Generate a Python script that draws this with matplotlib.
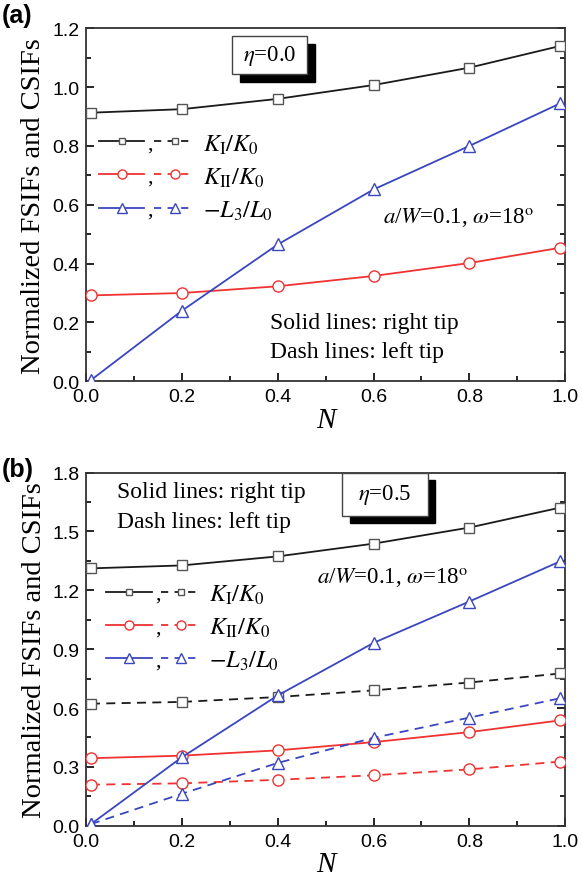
import matplotlib
matplotlib.use("Agg")
import matplotlib.pyplot as plt
from matplotlib.ticker import MultipleLocator
from matplotlib.patches import Rectangle

plt.rcParams['mathtext.fontset'] = 'stix'
plt.rcParams['font.family'] = ['Liberation Sans', 'DejaVu Sans']

# ---------------- data ----------------
N = [0.01, 0.2, 0.4, 0.6, 0.8, 0.99]

# panel (a), eta = 0.0 (right and left tips coincide)
a_KI = [0.913, 0.925, 0.960, 1.007, 1.066, 1.140]
a_KII = [0.292, 0.300, 0.323, 0.358, 0.402, 0.454]
a_L3 = [0.004, 0.240, 0.465, 0.652, 0.800, 0.945]

# panel (b), eta = 0.5
b_KI_right = [1.312, 1.327, 1.373, 1.438, 1.520, 1.622]
b_KI_left = [0.622, 0.631, 0.656, 0.690, 0.730, 0.776]
b_KII_right = [0.344, 0.357, 0.384, 0.426, 0.477, 0.537]
b_KII_left = [0.209, 0.216, 0.234, 0.257, 0.287, 0.327]
b_L3_right = [0.008, 0.349, 0.664, 0.932, 1.143, 1.348]
b_L3_left = [0.008, 0.163, 0.320, 0.448, 0.551, 0.650]

labels = [r'$K_{\rm I}/K_0$', r'$K_{\rm II}/K_0$', r'$-L_3/L_0$']
colors = ['#1a1a1a', '#f03232', '#3a46c0']
mec = ['#555555', '#f03232', '#3a46c0']
markers = ['s', 'o', '^']
msizes = [6.5, 8, 8.5]

fig = plt.figure(figsize=(5.82, 8.87), dpi=100)
axA = fig.add_axes([0.148, 0.569, 0.823, 0.398])
axB = fig.add_axes([0.148, 0.068, 0.823, 0.398])

serif = ['Liberation Serif', 'DejaVu Serif']

for i, y in enumerate([a_KI, a_KII, a_L3]):
    axA.plot(N, y, '-', color=colors[i], lw=1.3, marker=markers[i],
             ms=msizes[i], mfc='white', mec=mec[i], mew=1.0, zorder=3)

for i, (yr, yl) in enumerate([(b_KI_right, b_KI_left),
                              (b_KII_right, b_KII_left),
                              (b_L3_right, b_L3_left)]):
    axB.plot(N, yr, '-', color=colors[i], lw=1.3, marker=markers[i],
             ms=msizes[i], mfc='white', mec=mec[i], mew=1.0, zorder=3)
    axB.plot(N, yl, '--', color=colors[i], lw=1.3, marker=markers[i],
             ms=msizes[i], mfc='white', mec=mec[i], mew=1.0, zorder=3,
             dashes=(5, 3.5))


def style(ax, ymax, ymaj, ymin):
    ax.set_xlim(0, 1.0)
    ax.set_ylim(0, ymax)
    ax.xaxis.set_major_locator(MultipleLocator(0.2))
    ax.xaxis.set_minor_locator(MultipleLocator(0.1))
    ax.yaxis.set_major_locator(MultipleLocator(ymaj))
    ax.yaxis.set_minor_locator(MultipleLocator(ymin))
    ax.tick_params(which='both', direction='in', right=True, top=False,
                   labelsize=14, width=1.2, pad=5)
    ax.tick_params(which='major', length=6)
    ax.tick_params(which='minor', length=3.5)
    for s in ax.spines.values():
        s.set_linewidth(1.3)
        s.set_color('#333333')
    ax.set_xlabel('N', fontsize=21, family=serif, style='italic', labelpad=1)
    ax.set_ylabel('Normalized FSIFs and CSIFs', fontsize=20.5, family=serif,
                  labelpad=4)
    ax.yaxis.set_major_formatter(matplotlib.ticker.FormatStrFormatter('%.1f'))
    ax.xaxis.set_major_formatter(matplotlib.ticker.FormatStrFormatter('%.1f'))


style(axA, 1.2, 0.2, 0.1)
style(axB, 1.8, 0.3, 0.15)


def legend(ax, y0, dy, x):
    xs0, xs1, xm, xc, xd0, xd1, xdm, xl = x
    for i in range(3):
        y = y0 - i * dy
        ax.plot([xs0, xs1], [y, y], '-', color=colors[i], lw=1.3,
                transform=ax.transAxes, clip_on=False, zorder=4)
        ax.plot([xm], [y], marker=markers[i], ms=msizes[i] - 1.5, mfc='white',
                mec=mec[i], mew=1.0, transform=ax.transAxes, zorder=5)
        ax.text(xc, y - 0.008, ',', fontsize=16, family=serif,
                transform=ax.transAxes, ha='center', va='center')
        ax.plot([xd0, xd1], [y, y], '--', color=colors[i], lw=1.3,
                dashes=(4, 3.5), transform=ax.transAxes, zorder=4)
        ax.plot([xdm], [y], marker=markers[i], ms=msizes[i] - 1.5,
                mfc='white', mec=mec[i], mew=1.0, transform=ax.transAxes,
                zorder=5)
        ax.text(xl, y - 0.008, labels[i], fontsize=17.5,
                transform=ax.transAxes, ha='left', va='center')


legend(axA, 0.680, 0.094,
       (0.027, 0.121, 0.075, 0.134, 0.142, 0.222, 0.186, 0.243))
legend(axB, 0.663, 0.094,
       (0.042, 0.138, 0.090, 0.149, 0.157, 0.236, 0.199, 0.257))


def eta_box(ax, x0, y0, w, h, txt):
    sh = Rectangle((x0 + 0.016, y0 - 0.022), w, h, transform=ax.transAxes,
                   facecolor='black', edgecolor='black', zorder=5)
    bx = Rectangle((x0, y0), w, h, transform=ax.transAxes,
                   facecolor='white', edgecolor='#444444', lw=1.0, zorder=6)
    ax.add_patch(sh)
    ax.add_patch(bx)
    ax.text(x0 + w / 2, y0 + h / 2, txt, transform=ax.transAxes, fontsize=16.5,
            family=serif, ha='center', va='center', zorder=7)


eta_box(axA, 0.305, 0.870, 0.157, 0.108, r'$\eta$=0.0')
eta_box(axB, 0.535, 0.878, 0.178, 0.122, r'$\eta$=0.5')

ann = r'$a$/$W$=0.1, $\omega$=18$^{\rm o}$'
axA.text(0.62, 0.465, ann, transform=axA.transAxes, fontsize=16.5,
         family=serif, ha='left', va='center')
axB.text(0.481, 0.705, ann, transform=axB.transAxes, fontsize=16.5,
         family=serif, ha='left', va='center')

for ax, x, y1, y2 in [(axA, 0.383, 0.167, 0.085), (axB, 0.065, 0.946, 0.861)]:
    ax.text(x, y1, 'Solid lines: right tip', transform=ax.transAxes,
            fontsize=17, family=serif, ha='left', va='center')
    ax.text(x, y2, 'Dash lines: left tip', transform=ax.transAxes,
            fontsize=17, family=serif, ha='left', va='center')

fig.text(0.003, 0.995, '(a)', fontsize=18, fontweight='bold', va='top',
         ha='left')
fig.text(0.003, 0.484, '(b)', fontsize=18, fontweight='bold', va='top',
         ha='left')

fig.savefig('out.png', dpi=100)
